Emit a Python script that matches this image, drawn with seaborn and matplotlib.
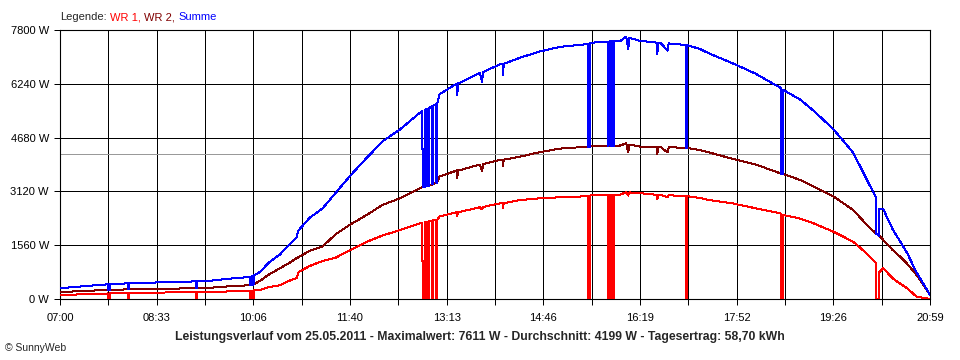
# sunnyweb_tagesverlauf.py

import numpy as np
import pandas as pd
import matplotlib
matplotlib.use('Agg')
import matplotlib.pyplot as plt
import seaborn as sns

# --- data (25.05.2011) ---
# shared time stamps, repeated stamps make the short dropouts
zeit = [
    "07:00", "07:24", "07:46", "07:46", "07:48", "07:48", "08:06", "08:06", "08:07", "08:07",
    "08:33", "08:56", "09:11", "09:11", "09:12", "09:12", "09:20", "09:44", "10:03", "10:03",
    "10:04", "10:04", "10:06", "10:06", "10:07", "10:07", "10:13", "10:22", "10:32", "10:42",
    "10:48", "10:50", "11:01", "11:13", "11:26", "11:40", "11:56", "12:11", "12:28", "12:47",
    "12:49", "12:49", "12:50", "12:50", "12:52", "12:52", "12:54", "12:54", "12:56", "12:56",
    "12:59", "12:59", "13:00", "13:00", "13:03", "13:03", "13:04", "13:04", "13:06", "13:23",
    "13:23", "13:24", "13:26", "13:45", "13:47", "13:48", "14:04", "14:07", "14:07", "14:08",
    "14:24", "14:43", "15:02", "15:21", "15:29", "15:29", "15:31", "15:31", "15:41", "15:48",
    "15:48", "15:49", "15:49", "15:51", "15:51", "15:52", "15:52", "15:53", "15:53", "15:54",
    "15:54", "16:00", "16:06", "16:08", "16:09", "16:19", "16:36", "16:36", "16:37", "16:39",
    "16:46", "16:47", "16:58", "17:04", "17:04", "17:05", "17:05", "17:17", "17:26", "17:49",
    "18:11", "18:34", "18:35", "18:35", "18:37", "18:37", "18:54", "19:07", "19:26", "19:45",
    "19:58", "20:04", "20:07", "20:07", "20:10", "20:10", "20:14", "20:23", "20:30", "20:37",
    "20:46", "20:59",
]
wr1 = [
    110, 140, 160, 0, 0, 165, 175, 0, 0, 175,
    185, 195, 200, 0, 0, 200, 200, 220, 240, 0,
    0, 240, 245, 0, 0, 250, 260, 350, 400, 540,
    600, 780, 960, 1100, 1200, 1420, 1660, 1840, 2000, 2190,
    2200, 1100, 1100, 0, 0, 2230, 2240, 0, 0, 2250,
    2270, 0, 0, 2280, 2290, 0, 0, 2300, 2390, 2520,
    2400, 2530, 2530, 2660, 2600, 2670, 2770, 2780, 2650, 2780,
    2870, 2920, 2950, 2970, 2980, 0, 0, 3000, 3020, 3020,
    0, 0, 3020, 3030, 0, 0, 3030, 3030, 0, 0,
    3030, 3020, 3100, 3000, 3090, 3070, 3020, 2900, 3020, 3020,
    2950, 3010, 2990, 2980, 0, 0, 2980, 2930, 2870, 2770,
    2630, 2490, 2480, 0, 0, 2440, 2330, 2190, 1950, 1660,
    1320, 1130, 1050, 0, 0, 780, 890, 600, 450, 310,
    70, 0,
]
wr2 = [
    200, 235, 265, 265, 265, 265, 280, 280, 280, 280,
    295, 305, 310, 310, 310, 310, 315, 370, 400, 400,
    400, 410, 420, 420, 420, 430, 530, 720, 890, 1060,
    1180, 1210, 1400, 1520, 1880, 2160, 2440, 2730, 2920, 3210,
    3240, 3240, 3240, 3240, 3260, 3260, 3280, 3280, 3290, 3290,
    3320, 3320, 3330, 3330, 3370, 3370, 3380, 3400, 3550, 3730,
    3500, 3740, 3740, 3900, 3700, 3910, 4030, 4040, 3850, 4040,
    4130, 4260, 4360, 4400, 4410, 4410, 4410, 4420, 4440, 4440,
    4440, 4440, 4440, 4440, 4440, 4440, 4440, 4440, 4440, 4440,
    4440, 4450, 4510, 4250, 4480, 4420, 4410, 4200, 4410, 4410,
    4250, 4400, 4390, 4380, 4380, 4380, 4380, 4320, 4250, 4060,
    3900, 3650, 3640, 3640, 3630, 3630, 3450, 3260, 2970, 2580,
    2150, 1980, 1900, 1900, 1830, 1830, 1710, 1420, 1230, 1020,
    700, 120,
]

durchschnitt = 4199
x_labels = ["07:00", "08:33", "10:06", "11:40", "13:13", "14:46", "16:19", "17:52", "19:26", "20:59"]
y_ticks = [0, 1560, 3120, 4680, 6240, 7800]
titel = ("Leistungsverlauf vom 25.05.2011 - Maximalwert: 7611 W - Durchschnitt: 4199 W"
         " - Tagesertrag: 58,70 kWh")

df = pd.DataFrame({'zeit': zeit, 'WR 1': wr1, 'WR 2': wr2})
df['Summe'] = df['WR 1'] + df['WR 2']
df['minute'] = (pd.to_timedelta(df['zeit'] + ':00') - pd.Timedelta(hours=7)).dt.total_seconds() / 60

sns.set_theme(style='white')
plt.rcParams['font.family'] = ['Liberation Sans', 'DejaVu Sans']

fig = plt.figure(figsize=(9.6, 3.6), dpi=100)
ax = fig.add_axes([60 / 960, 1 - 299 / 360, 870 / 960, 269 / 360])

farben = {'WR 1': '#ff0000', 'WR 2': '#800000', 'Summe': '#0000ff'}
ax.axhline(durchschnitt, color='#999999', lw=0.72, zorder=1.5, antialiased=False)
for name in ['WR 1', 'WR 2', 'Summe']:
    sns.lineplot(data=df, x='minute', y=name, ax=ax, estimator=None, sort=False,
                 color=farben[name], lw=0.72, zorder=3, antialiased=False)

# axes, grid and ticks
ende = 839
ax.set_xlim(0, ende)
ax.set_ylim(0, 7800)
ax.set_xticks(np.linspace(0, ende, 19))
ax.set_xticklabels([x_labels[i // 2] if i % 2 == 0 else '' for i in range(19)])
ax.set_yticks(y_ticks)
ax.set_yticklabels([f'{v} W' for v in y_ticks])
ax.set_xlabel('')
ax.set_ylabel('')
ax.set_axisbelow(True)
ax.grid(True, color='black', lw=0.72, antialiased=False)
ax.tick_params(bottom=True, left=True, direction='out', length=4, width=0.72,
               color='black', labelsize=8, labelcolor='black')
ax.tick_params(axis='x', pad=6)
ax.tick_params(axis='y', pad=4)
for s in ax.spines.values():
    s.set_color('black')
    s.set_linewidth(0.8)

# legend line at the top, coloured parts chained together
t0 = fig.text(60 / 960, 1 - 17 / 360, 'Legende:', ha='left', va='center', fontsize=8)
t1 = ax.annotate('WR 1,', xy=(1, 0), xycoords=t0, xytext=(2.5, 0), textcoords='offset points',
                 ha='left', va='bottom', fontsize=8, color=farben['WR 1'])
t2 = ax.annotate('WR 2,', xy=(1, 0), xycoords=t1, xytext=(2.5, 0), textcoords='offset points',
                 ha='left', va='bottom', fontsize=8, color=farben['WR 2'])
ax.annotate('Summe', xy=(1, 0), xycoords=t2, xytext=(2.5, 0), textcoords='offset points',
            ha='left', va='bottom', fontsize=8, color=farben['Summe'])

fig.text(0.5, 1 - 337 / 360, titel, ha='center', va='center', fontsize=8.8, fontweight='bold')
fig.text(5 / 960, 1 - 348 / 360, '\u00a9 SunnyWeb', ha='left', va='center', fontsize=7.5)

fig.savefig('out.png', dpi=100, facecolor='white')
plt.close(fig)
